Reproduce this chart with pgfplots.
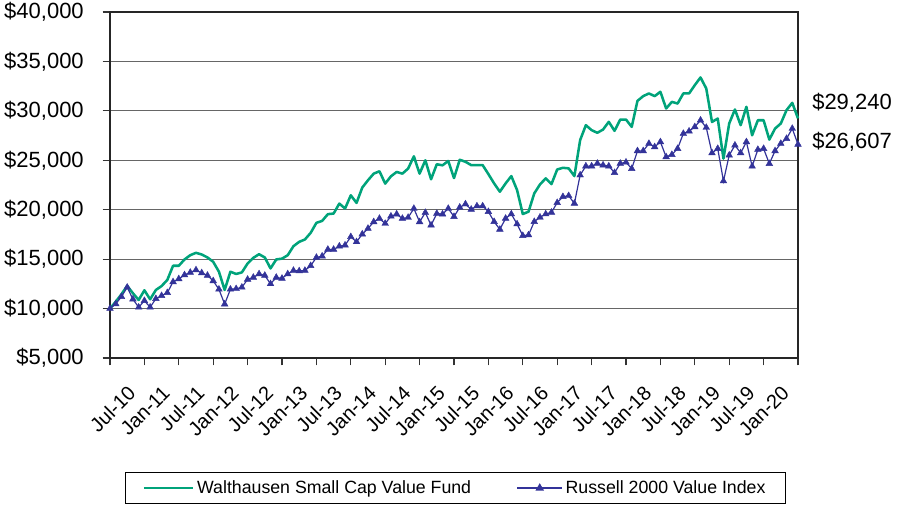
\documentclass[border=0pt]{standalone}
\usepackage{pgfplots}
\pgfplotsset{compat=1.18}
\usepackage{fontspec}
\setmainfont{Liberation Sans}
\definecolor{fundgreen}{RGB}{0,163,122}
\definecolor{idxblue}{RGB}{51,51,153}
\begin{document}
\begin{tikzpicture}
\useasboundingbox (0pt,0pt) rectangle (675.75pt,380.25pt);
\begin{axis}[
  at={(82.5pt,111.75pt)}, anchor=south west,
  scale only axis, width=516pt, height=259.5pt,
  xmin=0, xmax=120, ymin=5000, ymax=40000,
  scaled y ticks=false, scaled x ticks=false,
  clip=false,
  axis line style={black!85, line width=1.6pt},
  xtick={0,6,...,120},
  xticklabels={Jul-10,Jan-11,Jul-11,Jan-12,Jul-12,Jan-13,Jul-13,Jan-14,Jul-14,Jan-15,Jul-15,Jan-16,Jul-16,Jan-17,Jul-17,Jan-18,Jul-18,Jan-19,Jul-19,Jan-20,},
  ytick={5000,10000,...,40000},
  yticklabels={{\$5,000},{\$10,000},{\$15,000},{\$20,000},{\$25,000},{\$30,000},{\$35,000},{\$40,000}},
  xtick pos=left, ytick pos=left,
  tick align=outside, major tick length=5.5pt,
  tick style={black!80, line width=0.8pt},
  ymajorgrids, grid style={black!60, line width=0.75pt},
  yticklabel style={font=\fontsize{16.5}{19}\selectfont, inner sep=0pt, anchor=east, xshift=-14pt},
  xticklabel style={font=\fontsize{15}{17}\selectfont, inner sep=0pt, xshift=16.5pt, yshift=-18pt, rotate=45, anchor=east},
  legend columns=2,
  legend style={at={(0.502,-0.376)}, anchor=center, draw=black, line width=0.6pt,
    font=\fontsize{13.3}{15}\selectfont, inner xsep=13pt, inner ysep=4pt,
    /tikz/every even column/.append style={column sep=32pt}},
]
\addplot[fundgreen, line width=1.9pt, line join=round,
  legend image code/.code={\draw[fundgreen, line width=1.9pt] (0pt,0pt) -- (37pt,0pt);}]
coordinates {
(0,10000)(1,10700)(2,11450)(3,12300)(4,11550)(5,10870)(6,11850)(7,10940)(8,11880)(9,12280)
(10,12900)(11,14330)(12,14330)(13,14970)(14,15400)(15,15640)(16,15470)(17,15170)(18,14730)(19,13730)
(20,11880)(21,13730)(22,13500)(23,13660)(24,14560)(25,15130)(26,15500)(27,15170)(28,14060)(29,14970)
(30,15050)(31,15400)(32,16310)(33,16750)(34,16990)(35,17660)(36,18670)(37,18870)(38,19550)(39,19610)
(40,20620)(41,20120)(42,21460)(43,20690)(44,22240)(45,22980)(46,23650)(47,23890)(48,22640)(49,23380)
(50,23820)(51,23650)(52,24160)(53,25400)(54,23650)(55,25000)(56,23080)(57,24600)(58,24490)(59,24930)
(60,23200)(61,25050)(62,24850)(63,24510)(64,24510)(65,24510)(66,23600)(67,22660)(68,21820)(69,22660)
(70,23400)(71,21990)(72,19560)(73,19800)(74,21650)(75,22560)(76,23170)(77,22590)(78,24070)(79,24240)
(80,24180)(81,23400)(82,27040)(83,28550)(84,28050)(85,27780)(86,28110)(87,28890)(88,27980)(89,29120)
(90,29120)(91,28380)(92,31010)(93,31490)(94,31760)(95,31490)(96,31930)(97,30240)(98,30910)(99,30740)
(100,31760)(101,31760)(102,32600)(103,33380)(104,32260)(105,28880)(106,29220)(107,25170)(108,28720)(109,30140)
(110,28550)(111,30410)(112,27530)(113,29050)(114,29050)(115,27090)(116,28210)(117,28720)(118,30070)(119,30810)
(120,29240)
};
\addlegendentry{Walthausen Small Cap Value Fund}
\addplot[idxblue, line width=0.9pt, mark=triangle*, mark size=2.9pt,
  mark options={fill=idxblue, draw=idxblue, line width=0.3pt},
  legend image code/.code={\draw[idxblue, line width=0.9pt] (0pt,0pt) -- (34pt,0pt); \fill[idxblue] (17pt,0pt) +(90:2.8pt) -- +(210:2.8pt) -- +(330:2.8pt) -- cycle;}]
coordinates {
(0,10000)(1,10470)(2,11200)(3,12150)(4,10950)(5,10130)(6,10800)(7,10130)(8,11000)(9,11300)
(10,11600)(11,12700)(12,13000)(13,13400)(14,13650)(15,13900)(16,13600)(17,13350)(18,12800)(19,11950)
(20,10450)(21,11950)(22,12000)(23,12150)(24,12950)(25,13150)(26,13500)(27,13350)(28,12500)(29,13150)
(30,13050)(31,13500)(32,13850)(33,13800)(34,13850)(35,14330)(36,15170)(37,15300)(38,15980)(39,15980)
(40,16310)(41,16410)(42,17260)(43,16750)(44,17530)(45,18100)(46,18770)(47,19110)(48,18600)(49,19340)
(50,19550)(51,19110)(52,19210)(53,20120)(54,18770)(55,19710)(56,18430)(57,19610)(58,19550)(59,20120)
(60,19300)(61,20240)(62,20570)(63,20030)(64,20370)(65,20370)(66,19800)(67,18790)(68,18010)(69,19120)
(70,19560)(71,18550)(72,17370)(73,17440)(74,18790)(75,19230)(76,19560)(77,19730)(78,20710)(79,21310)
(80,21410)(81,20640)(82,23500)(83,24410)(84,24410)(85,24680)(86,24510)(87,24410)(88,23740)(89,24680)
(90,24800)(91,24150)(92,25950)(93,25950)(94,26690)(95,26350)(96,26860)(97,25340)(98,25570)(99,26180)
(100,27700)(101,27940)(102,28380)(103,29050)(104,28310)(105,25740)(106,26180)(107,22900)(108,25510)(109,26520)
(110,25740)(111,26860)(112,24390)(113,26080)(114,26180)(115,24660)(116,25950)(117,26690)(118,27190)(119,28210)
(120,26607)
};
\addlegendentry{Russell 2000 Value Index}
\node[anchor=west, inner sep=0pt, font=\fontsize{16.5}{19}\selectfont, xshift=10.5pt] at (axis cs:120,30794) {\$29,240};
\node[anchor=west, inner sep=0pt, font=\fontsize{16.5}{19}\selectfont, xshift=10.5pt] at (axis cs:120,26849) {\$26,607};
\end{axis}
\end{tikzpicture}
\end{document}
